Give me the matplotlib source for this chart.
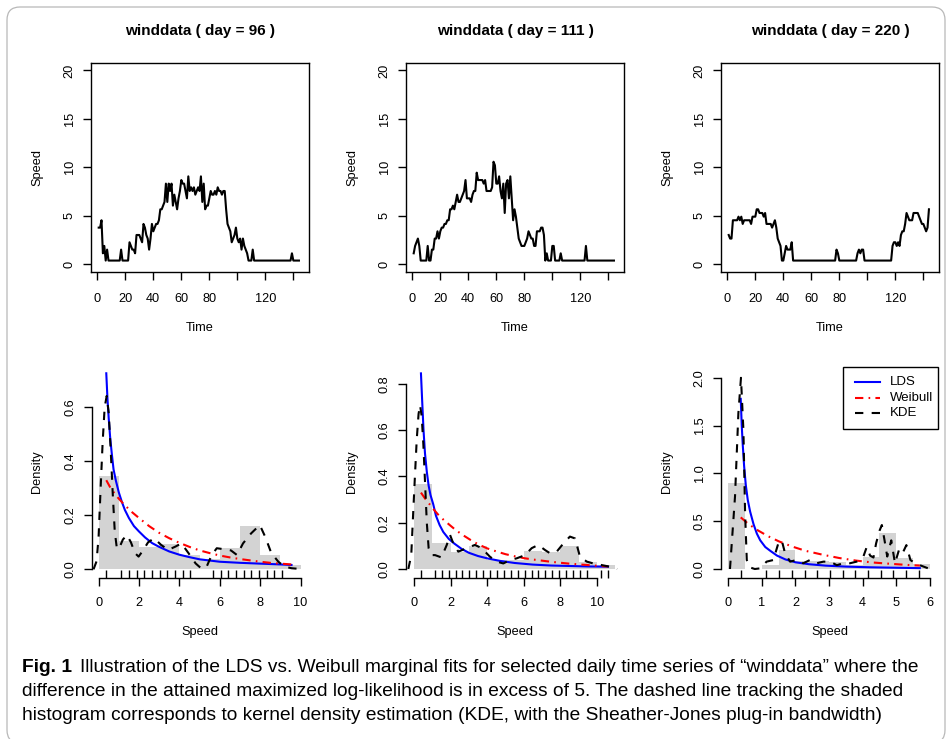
import numpy as np
import matplotlib
matplotlib.use("Agg")
import matplotlib.pyplot as plt
from matplotlib.patches import FancyBboxPatch, Rectangle
from matplotlib.lines import Line2D

W, H, DPI = 952, 739, 100
plt.rcParams['font.family'] = ['Liberation Sans', 'DejaVu Sans']

# ---------------- data ----------------
days = ["96", "111", "220"]
time_index = np.arange(1, 145)

speed_day96 = [
    3.78, 3.78, 4.54, 1.13, 1.89, 0.38, 1.51, 0.38, 0.38, 0.38, 0.38, 0.38,
    0.38, 0.38, 0.38, 0.38, 1.51, 0.38, 0.38, 0.38, 0.38, 0.38, 2.27, 1.89,
    1.51, 1.51, 1.13, 3.02, 3.02, 3.02, 2.65, 2.27, 4.16, 3.78, 3.02, 2.65,
    1.51, 2.65, 4.16, 3.40, 3.78, 4.16, 4.16, 4.54, 5.67, 5.67, 6.05, 6.43,
    8.32, 6.43, 8.32, 7.56, 8.32, 6.05, 7.18, 6.43, 5.67, 6.80, 7.56, 8.69,
    8.32, 8.32, 7.56, 6.80, 9.07, 7.56, 7.94, 7.56, 7.94, 7.18, 7.56, 7.94,
    7.56, 9.07, 6.43, 8.32, 5.67, 6.05, 6.05, 6.80, 7.56, 7.18, 7.18, 7.56,
    7.18, 7.94, 7.56, 7.56, 7.18, 7.56, 7.56, 5.67, 4.16, 3.78, 3.40, 2.27,
    2.65, 3.02, 3.78, 2.65, 2.27, 2.65, 1.51, 2.65, 1.89, 1.51, 1.13, 0.38,
    0.38, 0.38, 1.51, 0.38, 0.38, 0.38, 0.38, 0.38, 0.38, 0.38, 0.38, 0.38,
    0.38, 0.38, 0.38, 0.38, 0.38, 0.38, 0.38, 0.38, 0.38, 0.38, 0.38, 0.38,
    0.38, 0.38, 0.38, 0.38, 0.38, 0.38, 1.13, 0.38, 0.38, 0.38, 0.38, 0.38,
]
speed_day111 = [
    1.13, 1.89, 2.27, 2.65, 1.89, 0.38, 0.38, 0.38, 0.38, 0.38, 1.89, 0.38,
    0.38, 1.51, 1.51, 2.65, 2.65, 3.40, 2.65, 3.40, 3.78, 3.78, 4.16, 4.16,
    4.54, 4.54, 5.67, 5.67, 6.05, 5.67, 6.43, 7.18, 6.43, 6.43, 6.80, 7.18,
    7.56, 8.69, 6.80, 6.80, 6.80, 6.43, 7.18, 7.56, 7.56, 9.45, 8.69, 8.69,
    8.69, 8.69, 8.32, 8.69, 7.56, 7.56, 7.56, 7.56, 7.94, 10.58, 10.21, 8.32,
    8.32, 9.07, 7.56, 6.80, 8.32, 5.29, 8.32, 8.69, 6.80, 9.07, 6.80, 4.54,
    5.67, 4.91, 3.78, 2.65, 2.27, 1.89, 1.89, 1.89, 2.27, 2.65, 3.40, 3.02,
    2.65, 2.65, 1.89, 1.89, 3.40, 3.40, 3.40, 3.78, 3.78, 3.02, 0.38, 1.13,
    0.38, 0.38, 0.38, 1.89, 1.89, 0.38, 0.38, 0.38, 0.38, 1.13, 0.38, 0.38,
    0.38, 0.38, 0.38, 0.38, 0.38, 0.38, 0.38, 0.38, 0.38, 0.38, 0.38, 0.38,
    0.38, 0.38, 0.38, 1.89, 0.38, 0.38, 0.38, 0.38, 0.38, 0.38, 0.38, 0.38,
    0.38, 0.38, 0.38, 0.38, 0.38, 0.38, 0.38, 0.38, 0.38, 0.38, 0.38, 0.38,
]
speed_day220 = [
    3.02, 2.65, 2.65, 4.54, 4.54, 4.54, 4.54, 4.91, 4.54, 4.91, 4.16, 4.54,
    4.54, 4.54, 4.54, 4.54, 4.16, 4.91, 4.91, 4.91, 5.67, 5.67, 5.29, 5.29,
    5.29, 4.91, 5.29, 4.16, 4.16, 4.16, 4.16, 3.78, 4.16, 4.54, 3.78, 2.65,
    2.27, 1.89, 0.38, 0.38, 1.13, 1.89, 1.51, 1.51, 1.51, 2.27, 0.38, 0.38,
    0.38, 0.38, 0.38, 0.38, 0.38, 0.38, 0.38, 0.38, 0.38, 0.38, 0.38, 0.38,
    0.38, 0.38, 0.38, 0.38, 0.38, 0.38, 0.38, 0.38, 0.38, 0.38, 0.38, 0.38,
    0.38, 0.38, 0.38, 0.38, 0.38, 1.51, 1.13, 0.38, 0.38, 0.38, 0.38, 0.38,
    0.38, 0.38, 0.38, 0.38, 0.38, 0.38, 0.38, 0.38, 1.13, 1.51, 1.13, 1.51,
    1.51, 0.38, 0.38, 0.38, 0.38, 0.38, 0.38, 0.38, 0.38, 0.38, 0.38, 0.38,
    0.38, 0.38, 0.38, 0.38, 0.38, 0.38, 0.38, 0.38, 0.38, 1.89, 2.27, 2.27,
    1.89, 2.27, 1.89, 3.02, 3.40, 3.40, 4.16, 5.29, 4.91, 4.54, 4.54, 4.54,
    5.29, 5.29, 5.29, 5.29, 4.91, 4.54, 4.16, 4.16, 3.78, 3.40, 3.78, 5.67,
]

hist_edges_day96 = [0, 1, 2, 3, 4, 5, 6, 7, 8, 9, 10]
hist_density_day96 = [0.345, 0.106, 0.084, 0.092, 0.052, 0.040, 0.078, 0.160, 0.052, 0.016]
hist_edges_day111 = [0, 1, 2, 3, 4, 5, 6, 7, 8, 9, 10, 11]
hist_density_day111 = [0.367, 0.114, 0.074, 0.099, 0.040, 0.039, 0.078, 0.072, 0.099, 0.032, 0.017]
hist_edges_day220 = [0, 0.5, 1, 1.5, 2, 2.5, 3, 3.5, 4, 4.5, 5, 5.5, 6]
hist_density_day220 = [0.903, 0.0, 0.042, 0.199, 0.083, 0.083, 0.069, 0.042, 0.130, 0.380, 0.110, 0.049]

lds_x_day96 = [0.38, 0.44, 0.5, 0.57, 0.65, 0.74, 0.85, 1.0, 1.15, 1.3, 1.5, 1.75, 2.0, 2.3, 2.65,
               3.0, 3.5, 4.0, 4.5, 5.0, 6.0, 7.0, 8.0, 9.0, 9.55]
lds_y_day96 = [0.726, 0.63, 0.56, 0.49, 0.43, 0.37, 0.33, 0.285, 0.25, 0.22, 0.19, 0.16, 0.14, 0.118,
               0.097, 0.083, 0.066, 0.054, 0.045, 0.037, 0.028, 0.024, 0.021, 0.018, 0.016]
weib_x_day96 = [0.38, 0.6, 0.9, 1.2, 1.6, 2.0, 2.5, 3.0, 3.5, 4.0, 4.5, 5.0, 5.5, 6.0, 6.5, 7.0,
                7.5, 8.0, 8.5, 9.0, 9.55]
weib_y_day96 = [0.33, 0.30, 0.27, 0.245, 0.215, 0.19, 0.16, 0.135, 0.115, 0.098, 0.083, 0.07, 0.06,
                0.051, 0.044, 0.038, 0.033, 0.028, 0.024, 0.021, 0.018]
kde_x_day96 = [-0.25, -0.1, 0.0, 0.1, 0.2, 0.3, 0.4, 0.5, 0.6, 0.7, 0.8, 0.9, 1.0, 1.2, 1.4, 1.6,
               1.8, 1.98, 2.2, 2.45, 2.75, 3.1, 3.45, 3.8, 4.1, 4.45, 4.8, 5.1, 5.35, 5.6, 5.85,
               6.25, 6.55, 6.85, 7.15, 7.55, 7.98, 8.25, 8.55, 8.9, 9.2, 9.55, 9.85, 10.17]
kde_y_day96 = [0.0, 0.03, 0.12, 0.3, 0.47, 0.6, 0.642, 0.58, 0.44, 0.28, 0.14, 0.08, 0.075, 0.11,
               0.127, 0.1, 0.06, 0.047, 0.07, 0.1, 0.115, 0.09, 0.072, 0.084, 0.096, 0.06, 0.022,
               0.002, 0.01, 0.053, 0.078, 0.074, 0.07, 0.053, 0.096, 0.133, 0.164, 0.12, 0.06,
               0.028, 0.01, 0.004, 0.002, 0.0]

lds_x_day111 = [0.38, 0.45, 0.52, 0.6, 0.7, 0.8, 0.9, 1.05, 1.2, 1.4, 1.6, 1.9, 2.2, 2.6, 3.0, 3.5,
                4.0, 4.7, 5.5, 6.5, 7.5, 8.5, 9.5, 10.6]
lds_y_day111 = [0.845, 0.72, 0.6, 0.5, 0.42, 0.36, 0.32, 0.28, 0.23, 0.19, 0.16, 0.13, 0.11, 0.087,
                0.07, 0.056, 0.046, 0.035, 0.026, 0.019, 0.015, 0.013, 0.011, 0.01]
weib_x_day111 = [0.38, 0.6, 0.8, 1.05, 1.35, 1.65, 1.95, 2.3, 2.7, 3.1, 3.5, 4.0, 4.5, 5.0, 5.5, 6.0,
                 6.5, 7.0, 7.5, 8.0, 8.5, 9.0, 9.5, 10.0, 10.6]
weib_y_day111 = [0.33, 0.305, 0.285, 0.26, 0.232, 0.21, 0.19, 0.167, 0.145, 0.125, 0.107, 0.089,
                 0.076, 0.064, 0.055, 0.047, 0.041, 0.036, 0.031, 0.027, 0.023, 0.02, 0.017, 0.014,
                 0.011]
kde_x_day111 = [-0.31, -0.15, -0.04, 0.05, 0.15, 0.25, 0.33, 0.42, 0.51, 0.6, 0.7, 0.8, 0.95, 1.15,
                1.5, 1.79, 1.97, 2.15, 2.42, 2.88, 3.33, 3.7, 4.15, 4.52, 4.88, 5.25, 5.61, 6.07,
                6.43, 6.79, 7.16, 7.43, 7.8, 8.16, 8.52, 8.8, 9.07, 9.44, 9.8, 10.25, 10.7, 11.1]
kde_y_day111 = [0.0, 0.06, 0.25, 0.4, 0.56, 0.67, 0.708, 0.66, 0.54, 0.38, 0.2, 0.09, 0.06, 0.06,
                0.05, 0.104, 0.147, 0.11, 0.075, 0.09, 0.104, 0.09, 0.053, 0.032, 0.024, 0.039,
                0.046, 0.06, 0.09, 0.104, 0.082, 0.068, 0.075, 0.11, 0.14, 0.132, 0.053, 0.032,
                0.024, 0.017, 0.01, 0.0]

lds_x_day220 = [0.37, 0.40, 0.43, 0.47, 0.52, 0.58, 0.65, 0.75, 0.85, 0.95, 1.1, 1.25, 1.45, 1.7,
                2.0, 2.4, 2.9, 3.5, 4.2, 5.0, 5.7]
lds_y_day220 = [1.78, 1.5, 1.3, 1.08, 0.88, 0.72, 0.6, 0.47, 0.37, 0.30, 0.23, 0.19, 0.14, 0.10,
                0.07, 0.05, 0.035, 0.025, 0.018, 0.013, 0.009]
weib_x_day220 = [0.37, 0.6, 0.9, 1.2, 1.5, 1.9, 2.3, 2.8, 3.3, 3.8, 4.3, 4.8, 5.3, 5.7]
weib_y_day220 = [0.54, 0.47, 0.40, 0.34, 0.29, 0.235, 0.19, 0.15, 0.115, 0.088, 0.068, 0.055,
                 0.043, 0.036]
kde_x_day220 = [0.05, 0.2, 0.3, 0.377, 0.45, 0.5, 0.55, 0.64, 0.79, 0.95, 1.14, 1.34, 1.49, 1.59,
                1.69, 1.84, 2.03, 2.23, 2.43, 2.63, 2.83, 3.03, 3.23, 3.42, 3.62, 3.82, 4.02, 4.12,
                4.22, 4.32, 4.4, 4.5, 4.57, 4.65, 4.73, 4.85, 4.96, 5.08, 5.18, 5.3, 5.42, 5.56,
                5.7, 5.85, 6.0]
kde_y_day220 = [0.0, 0.76, 1.63, 2.0, 1.45, 0.58, 0.094, 0.017, 0.0, 0.007, 0.077, 0.094, 0.27,
                0.3, 0.164, 0.077, 0.094, 0.06, 0.094, 0.06, 0.077, 0.077, 0.04, 0.06, 0.06, 0.077,
                0.13, 0.23, 0.14, 0.12, 0.27, 0.4, 0.46, 0.3, 0.13, 0.3, 0.06, 0.2, 0.16, 0.25,
                0.094, 0.06, 0.04, 0.02, 0.0]

top_xticks = [0, 20, 40, 60, 80, 100, 120, 140]
top_xticklabels = ["0", "20", "40", "60", "80", "", "120", ""]
top_yticks = [0, 5, 10, 15, 20]
bottom_xticks = [[0, 2, 4, 6, 8, 10], [0, 2, 4, 6, 8, 10], [0, 1, 2, 3, 4, 5, 6]]
bottom_yticks = [[0.0, 0.2, 0.4, 0.6], [0.0, 0.2, 0.4, 0.6, 0.8], [0.0, 0.5, 1.0, 1.5, 2.0]]
legend_labels = ["LDS", "Weibull", "KDE"]

caption_bold = "Fig. 1"
caption_lines = [
    "Illustration of the LDS vs. Weibull marginal fits for selected daily time series of \u201cwinddata\u201d where the",
    "difference in the attained maximized log-likelihood is in excess of 5. The dashed line tracking the shaded",
    "histogram corresponds to kernel density estimation (KDE, with the Sheather-Jones plug-in bandwidth)",
]

# ---------------- styles ----------------
FS = 9.2
TFS = 11
LW = 1.5
HIST_COLOR = "#d3d3d3"
KDE_STYLE = (0, (4, 4))
WEIB_STYLE = (0, (4, 2.5, 0.8, 2.5))

fig = plt.figure(figsize=(W / DPI, H / DPI), dpi=DPI)


def axes_px(x0, y0, x1, y1):
    return fig.add_axes([x0 / W, 1 - y1 / H, (x1 - x0) / W, (y1 - y0) / H])


def fx(x):
    return x / W


def fy(y):
    return 1 - y / H


def style_common(ax, xpad):
    ax.tick_params(axis="both", direction="out", length=6, width=1.0, labelsize=FS, colors="black")
    ax.tick_params(axis="x", pad=xpad)
    ax.tick_params(axis="y", pad=5, labelrotation=90)
    for lab in ax.get_yticklabels():
        lab.set_va("center")
    for sp in ax.spines.values():
        sp.set_linewidth(1.0)


speeds = [speed_day96, speed_day111, speed_day220]

# ---------------- top row: time series ----------------
top_x0 = [91, 406, 721]
TOP_W = 218.3
TOP_Y0, TOP_Y1 = 62.7, 272
for i in range(3):
    x0 = top_x0[i]
    ax = axes_px(x0, TOP_Y0, x0 + TOP_W, TOP_Y1)
    ax.plot(time_index, speeds[i], color="black", lw=LW)
    ax.set_xlim(-4.5, 151.4)
    ax.set_ylim(-0.8, 20.8)
    ax.set_xticks(top_xticks)
    ax.set_xticklabels(top_xticklabels)
    ax.set_yticks(top_yticks)
    ax.set_yticklabels([str(v) for v in top_yticks])
    style_common(ax, 8.8)
    h = TOP_Y1 - TOP_Y0
    ax.set_title(f"winddata ( day = {days[i]} )", fontsize=TFS, fontweight="bold",
                 y=1 + (TOP_Y0 - 31) / h, va="center", pad=0)
    ax.set_xlabel("Time", fontsize=FS)
    ax.xaxis.set_label_coords(0.5, (TOP_Y1 - 328) / h)
    ax.xaxis.label.set_va("center")
    ax.set_ylabel("Speed", fontsize=FS)
    ax.yaxis.set_label_coords(-54 / TOP_W, 0.5)
    ax.yaxis.label.set_va("center")

# ---------------- bottom row: densities ----------------
bot_x0 = [91.7, 406, 721]
bot_x1 = [309, 624, 939]
x_zero = [98.6, 414, 728.3]
x_ppu = [20.2, 18.3, 33.6]
y_zero = [569.3, 569, 569]
y_ppu = [270, 231.5, 95.6]
BOT_Y0, BOT_Y1 = 365, 577.5

hists = [(hist_edges_day96, hist_density_day96), (hist_edges_day111, hist_density_day111),
         (hist_edges_day220, hist_density_day220)]
ldss = [(lds_x_day96, lds_y_day96), (lds_x_day111, lds_y_day111), (lds_x_day220, lds_y_day220)]
weibs = [(weib_x_day96, weib_y_day96), (weib_x_day111, weib_y_day111), (weib_x_day220, weib_y_day220)]
kdes = [(kde_x_day96, kde_y_day96), (kde_x_day111, kde_y_day111), (kde_x_day220, kde_y_day220)]

for i in range(3):
    ax = axes_px(bot_x0[i], BOT_Y0, bot_x1[i], BOT_Y1)
    ax.set_xlim((bot_x0[i] - x_zero[i]) / x_ppu[i], (bot_x1[i] - x_zero[i]) / x_ppu[i])
    ax.set_ylim(-(BOT_Y1 - y_zero[i]) / y_ppu[i], (y_zero[i] - BOT_Y0) / y_ppu[i])
    edges, dens = hists[i]
    edges = np.asarray(edges, dtype=float)
    ax.bar(edges[:-1], dens, width=np.diff(edges), align="edge", color=HIST_COLOR,
           linewidth=0, zorder=1)
    ax.plot(*ldss[i], color="blue", lw=LW, zorder=3, label=legend_labels[0])
    ax.plot(*weibs[i], color="red", lw=LW, linestyle=WEIB_STYLE, zorder=3, label=legend_labels[1])
    ax.plot(*kdes[i], color="black", lw=LW, linestyle=KDE_STYLE, zorder=4, label=legend_labels[2])
    ax.vlines(np.unique(speeds[i]), 0, 0.033, transform=ax.get_xaxis_transform(),
              colors="black", lw=1.0, zorder=5, clip_on=False)
    ax.spines["top"].set_visible(False)
    ax.spines["right"].set_visible(False)
    ax.set_xticks(bottom_xticks[i])
    ax.set_xticklabels([f"{v:g}" for v in bottom_xticks[i]])
    ax.set_yticks(bottom_yticks[i])
    ax.set_yticklabels([f"{v:.1f}" for v in bottom_yticks[i]])
    style_common(ax, 8.0)
    ax.spines["bottom"].set_bounds(bottom_xticks[i][0], bottom_xticks[i][-1])
    ax.spines["left"].set_bounds(bottom_yticks[i][0], bottom_yticks[i][-1])
    h = BOT_Y1 - BOT_Y0
    w = bot_x1[i] - bot_x0[i]
    ax.set_xlabel("Speed", fontsize=FS)
    ax.xaxis.set_label_coords(0.5, (BOT_Y1 - 632) / h)
    ax.xaxis.label.set_va("center")
    ax.set_ylabel("Density", fontsize=FS)
    ax.yaxis.set_label_coords((top_x0[i] - 54 - bot_x0[i]) / w, 0.5)
    ax.yaxis.label.set_va("center")

# legend (figure pixel space, top right of the third density panel)
leg_box = Rectangle((fx(843.3), fy(429)), (937.7 - 843.3) / W, (429 - 366.7) / H,
                    transform=fig.transFigure, fill=True, facecolor="white",
                    edgecolor="black", lw=1.0, zorder=10)
fig.add_artist(leg_box)
leg_rows = [381.7, 397.7, 413.3]
leg_styles = [dict(color="blue", linestyle="-"), dict(color="red", linestyle=WEIB_STYLE),
              dict(color="black", linestyle=KDE_STYLE)]
for yy, lab, st in zip(leg_rows, legend_labels, leg_styles):
    fig.add_artist(Line2D([fx(855), fx(880)], [fy(yy), fy(yy)], transform=fig.transFigure,
                          lw=LW, zorder=11, **st))
    fig.text(fx(890), fy(yy), lab, fontsize=9.5, va="center", ha="left", zorder=11)

# outer rounded border
border = FancyBboxPatch((0.07, -0.04), 9.38, 7.36,
                        boxstyle="round,pad=0,rounding_size=0.13",
                        transform=fig.dpi_scale_trans, fill=False, ec="#b8b8b8", lw=0.9)
fig.add_artist(border)

# caption: size fitted so that the first (longest) line ends where the reference's does
cap_kw = dict(family=["Liberation Sans", "DejaVu Sans"])
cap_y = [668, 692, 716]
CFS = 12.5
tb = fig.text(fx(22), fy(cap_y[0]), caption_bold, fontsize=CFS, fontweight="bold",
              va="center", ha="left", **cap_kw)
t1 = fig.text(0, fy(cap_y[0]), caption_lines[0], fontsize=CFS, va="center", ha="left", **cap_kw)
t2 = fig.text(fx(22), fy(cap_y[1]), caption_lines[1], fontsize=CFS, va="center", ha="left", **cap_kw)
t3 = fig.text(fx(22), fy(cap_y[2]), caption_lines[2], fontsize=CFS, va="center", ha="left", **cap_kw)


def place_line1():
    fig.canvas.draw()
    rr = fig.canvas.get_renderer()
    bb = tb.get_window_extent(rr)
    t1.set_x((bb.x1 + 0.6 * CFS) / W)
    fig.canvas.draw()
    return t1.get_window_extent(rr).x1


end1 = place_line1()
CFS = CFS * (927 - 22) / (end1 - 22)
for t in (tb, t1, t2, t3):
    t.set_fontsize(CFS)
place_line1()

fig.savefig("out.png", dpi=DPI)
